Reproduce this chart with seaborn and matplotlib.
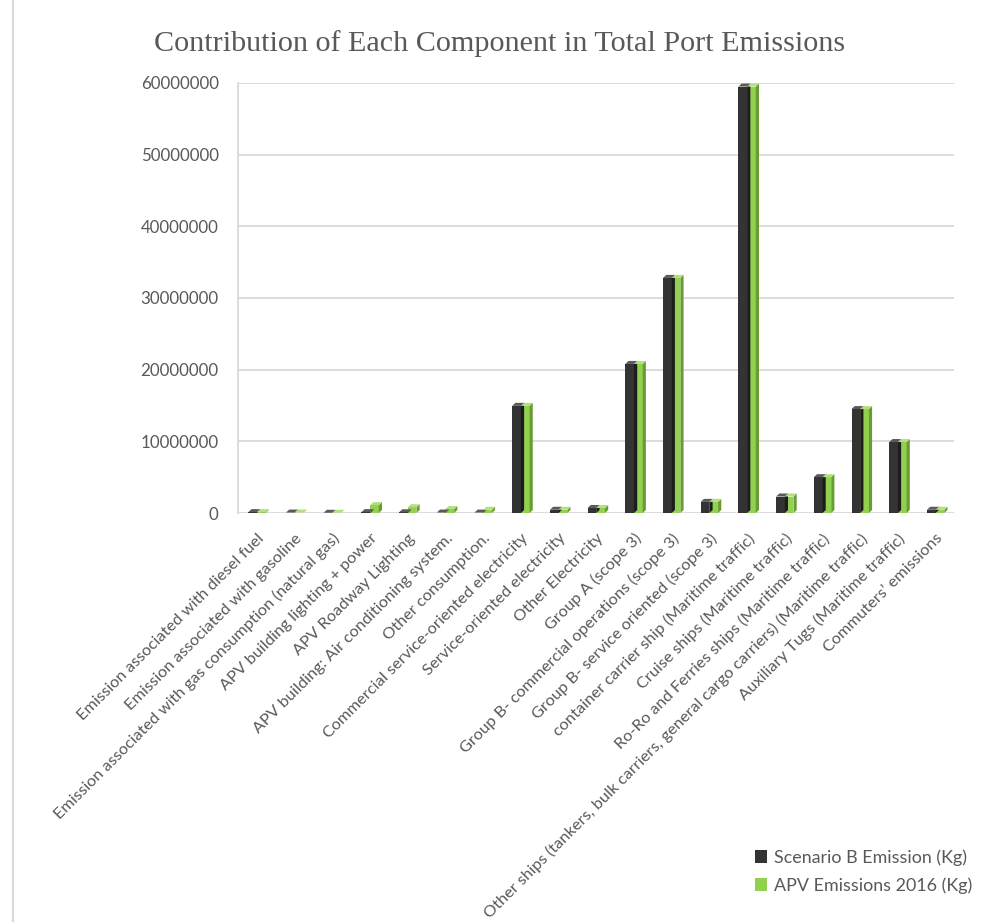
import seaborn as sns
import pandas as pd
import matplotlib.pyplot as plt
from matplotlib.patches import Polygon, Rectangle
from matplotlib.ticker import StrMethodFormatter

categories = ['Emission associated with diesel fuel',
              'Emission associated with gasoline',
              'Emission associated with gas consumption (natural gas)',
              'APV building lighting + power',
              'APV Roadway Lighting',
              'APV building: Air conditioning system.',
              'Other consumption.',
              'Commercial service-oriented electricity',
              'Service-oriented electricity',
              'Other Electricity',
              'Group A (scope 3)',
              'Group B- commercial operations (scope 3)',
              'Group B- service oriented (scope 3)',
              'container carrier ship (Maritime traffic)',
              'Cruise ships (Maritime traffic)',
              'Ro-Ro and Ferries ships (Maritime traffic)',
              'Other ships (tankers, bulk carriers, general cargo carriers) (Maritime traffic)',
              'Auxiliary Tugs (Maritime traffic)',
              "Commuters\u2019 emissions"]
scenario_b = [120000, 60000, 30000, 120000, 100000, 60000, 60000,
              14950000, 450000, 700000, 20800000, 32800000, 1550000,
              59500000, 2300000, 5000000, 14500000, 9900000, 450000]
apv_2016 = [120000, 60000, 30000, 1100000, 800000, 550000, 450000,
            14950000, 450000, 700000, 20800000, 32800000, 1550000,
            59500000, 2300000, 5000000, 14500000, 9900000, 450000]
series = ['Scenario B Emission (Kg)', 'APV Emissions 2016 (Kg)']

df = pd.DataFrame({'Component': categories * 2,
                   'Emission': scenario_b + apv_2016,
                   'Series': [series[0]] * len(categories) + [series[1]] * len(categories)})

front = {series[0]: '#333333', series[1]: '#92d050'}
side = {series[0]: '#1c1c1c', series[1]: '#6a9c34'}
top = {series[0]: '#5a5a5a', series[1]: '#b2e07a'}
txt = '#595959'
font = 'Lato'

fig = plt.figure(figsize=(9.84, 9.22), dpi=100)
ax = fig.add_axes([0.242, 0.4436, 0.728, 0.4664])
sns.barplot(data=df, x='Component', y='Emission', hue='Series', palette=front,
            width=0.46, gap=0, saturation=1, legend=False, ax=ax, zorder=3)

# fake 3D look: side and top faces from the drawn bars
dx, dy = 0.085, 420000
for cont, name in zip(ax.containers, series):
    for r in cont:
        x0, w, h = r.get_x(), r.get_width(), r.get_height()
        ax.add_patch(Polygon([(x0 + w, 0), (x0 + w + dx, dy), (x0 + w + dx, h + dy), (x0 + w, h)],
                             closed=True, fc=side[name], ec='none', zorder=3, clip_on=False))
        ax.add_patch(Polygon([(x0, h), (x0 + dx, h + dy), (x0 + w + dx, h + dy), (x0 + w, h)],
                             closed=True, fc=top[name], ec='none', zorder=3, clip_on=False))

ax.set_ylim(0, 60000000)
ax.set_xlim(-0.5, len(categories) - 0.5)
ax.set_yticks(range(0, 60000001, 10000000))
ax.yaxis.set_major_formatter(StrMethodFormatter('{x:.0f}'))
ax.yaxis.grid(True, color='#d9d9d9', lw=1.3, zorder=0)
ax.set_axisbelow(True)
for s in ['top', 'right', 'bottom']:
    ax.spines[s].set_visible(False)
ax.spines['left'].set_color('#d9d9d9')
ax.spines['left'].set_linewidth(1.3)
ax.tick_params(length=0)
ax.tick_params(axis='y', pad=14, labelsize=12.2, labelcolor=txt)
ax.tick_params(axis='x', pad=13, labelsize=11.8, labelcolor=txt)
for lab in ax.get_yticklabels():
    lab.set_family(font)
ax.set_xticks(range(len(categories)))
ax.set_xticklabels(categories, rotation=45, ha='right', rotation_mode='anchor', family=font)
ax.set_xlabel('')
ax.set_ylabel('')

fig.text(0.508, 1 - 44 / 922, 'Contribution of Each Component in Total Port Emissions',
         ha='center', va='center', fontsize=21.7, color=txt, family='Liberation Serif')

handles = [Rectangle((0, 0), 1, 1, fc=front[s], ec='none') for s in series]
leg = fig.legend(handles, series, loc='upper left', frameon=False,
                 handlelength=0.7, handleheight=0.7, handletextpad=0.35,
                 labelspacing=0.65, prop={'family': font, 'size': 12.9}, labelcolor=txt,
                 borderaxespad=0, borderpad=0)
leg.set_bbox_to_anchor((0.767, 1 - 849 / 922), transform=fig.transFigure)

fig.patches.append(Rectangle((0.013, -0.01), 1.0, 1.02, transform=fig.transFigure,
                             fc='none', ec='#d9d9d9', lw=1.5))
fig.savefig('out.png', dpi=100)
